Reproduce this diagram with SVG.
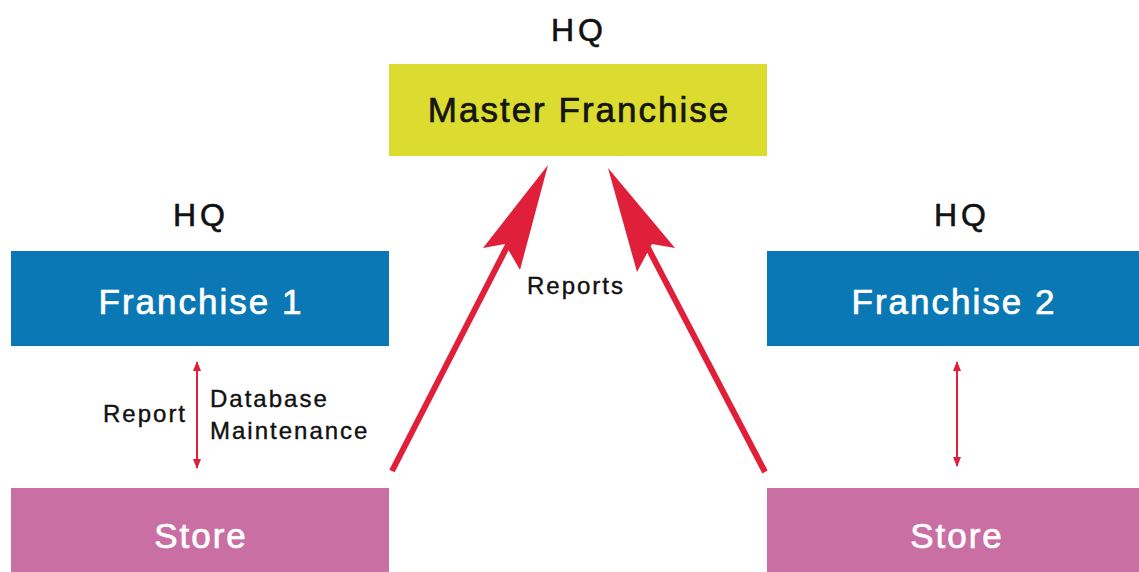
<svg xmlns="http://www.w3.org/2000/svg" width="1139" height="572" viewBox="0 0 1139 572">
<defs>
<style>
text{font-family:"Liberation Sans",Arial,sans-serif}
.hq{font-size:32px;fill:#111;stroke:#111;stroke-width:0.6;text-anchor:middle;letter-spacing:4px}
.lbl{font-size:35px;text-anchor:middle;letter-spacing:2px;stroke-width:0.7}
.dark{fill:#151515;stroke:#151515}
.w{fill:#fff;stroke:#fff}
.small{font-size:24px;fill:#111;stroke:#111;stroke-width:0.4;letter-spacing:2px}
.red{stroke:#E0203A;fill:none}
</style>
<marker id="sm" viewBox="0 0 10 10" refX="9" refY="5" markerWidth="10" markerHeight="10" orient="auto-start-reverse" markerUnits="userSpaceOnUse">
<path d="M0,1 L10,5 L0,9 z" fill="#E0203A"/>
</marker>
</defs>
<rect width="1139" height="572" fill="#fff"/>
<g id="master">
<text class="hq" x="579" y="41">HQ</text>
<rect x="389" y="64" width="378" height="92" fill="#DCDC30"/>
<text class="lbl dark" x="579" y="122">Master Franchise</text>
</g>
<g id="franchise1">
<text class="hq" x="201" y="226">HQ</text>
<rect x="11" y="251" width="378" height="95" fill="#0A78B4"/>
<text class="lbl w" x="201" y="314">Franchise 1</text>
</g>
<g id="franchise2">
<text class="hq" x="962" y="226">HQ</text>
<rect x="767" y="251" width="372" height="95" fill="#0A78B4"/>
<text class="lbl w" x="954" y="314">Franchise 2</text>
</g>
<g id="store1">
<rect x="11" y="488" width="378" height="84" fill="#C96FA4"/>
<text class="lbl w" x="201" y="548">Store</text>
</g>
<g id="store2">
<rect x="767" y="488" width="372" height="84" fill="#C96FA4"/>
<text class="lbl w" x="957" y="548">Store</text>
</g>
<g id="connectors">
<line class="red" x1="392" y1="471" x2="510" y2="241" stroke-width="6"/>
<path d="M548,165 L483,248 L505,244 L520,270 Z" fill="#E0203A"/>
<line class="red" x1="765" y1="472" x2="646" y2="244" stroke-width="6"/>
<path d="M608,168 L675,248 L652,244 L637,272 Z" fill="#E0203A"/>
<line class="red" x1="197" y1="362" x2="197" y2="468" stroke-width="2" marker-start="url(#sm)" marker-end="url(#sm)"/>
<line class="red" x1="957" y1="362" x2="957" y2="466" stroke-width="2" marker-start="url(#sm)" marker-end="url(#sm)"/>
<text class="small" x="576" y="294" text-anchor="middle">Reports</text>
<text class="small" x="103" y="422">Report</text>
<text class="small" x="210" y="407">Database</text>
<text class="small" x="210" y="439">Maintenance</text>
</g>
</svg>
